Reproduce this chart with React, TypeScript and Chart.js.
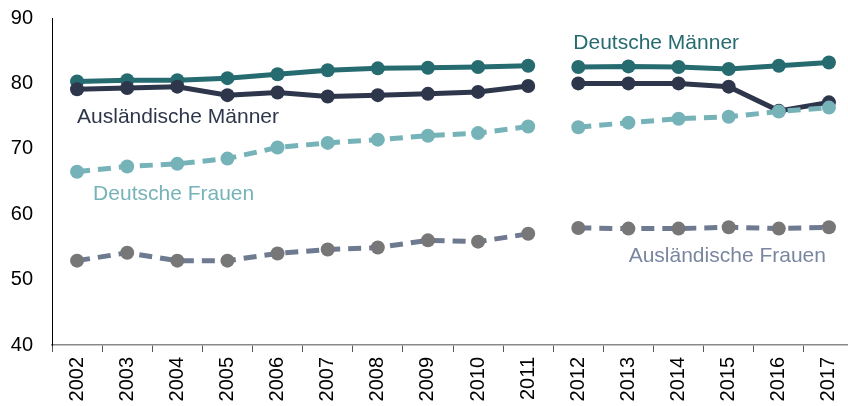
import React, { useEffect, useRef } from "react";
import { Chart, registerables } from "chart.js";

Chart.register(...registerables);

const years = ["2002","2003","2004","2005","2006","2007","2008","2009","2010","2011","2012","2013","2014","2015","2016","2017"];
const deutscheMaenner = [80.3, 80.5, 80.5, 80.8, 81.4, 82.0, 82.3, 82.4, 82.5, 82.7, 82.5, 82.6, 82.5, 82.2, 82.7, 83.2];
const auslMaenner = [79.1, 79.3, 79.5, 78.2, 78.6, 78.0, 78.2, 78.4, 78.7, 79.6, 80.0, 80.0, 80.0, 79.5, 75.8, 77.1];
const deutscheFrauen = [66.5, 67.3, 67.7, 68.5, 70.2, 70.9, 71.4, 72.0, 72.4, 73.4, 73.3, 74.0, 74.6, 74.9, 75.7, 76.3];
const auslFrauen = [52.9, 54.1, 52.9, 52.9, 54.0, 54.6, 54.9, 56.0, 55.8, 57.0, 57.9, 57.8, 57.8, 58.0, 57.8, 58.0];
const yTicks = [40, 50, 60, 70, 80, 90];
const breakAfterIndex = 9;

const labelTexts = ["Deutsche Männer", "Ausländische Männer", "Deutsche Frauen", "Ausländische Frauen"];
const labelX = [9.9, 0.0, 0.32, 14.94];
const labelY = [86.2, 74.8, 63.1, 53.6];
const labelAlign: CanvasTextAlign[] = ["left", "left", "left", "right"];
const labelColors = ["#256b70", "#2e364b", "#76b3b8", "#7a86a0"];

const FONT = '"Liberation Sans", Arial, sans-serif';

const labelsPlugin = {
  id: "seriesLabels",
  afterDatasetsDraw(chart: any) {
    const { ctx, scales } = chart;
    ctx.save();
    ctx.font = `21px ${FONT}`;
    ctx.textBaseline = "middle";
    labelTexts.forEach((t, i) => {
      ctx.fillStyle = labelColors[i];
      ctx.textAlign = labelAlign[i];
      ctx.fillText(t, scales.x.getPixelForValue(labelX[i]), scales.y.getPixelForValue(labelY[i]));
    });
    ctx.restore();
  },
};

const gapSegment = {
  borderColor: (c: any) => (c.p0DataIndex === breakAfterIndex ? "rgba(0,0,0,0)" : undefined),
};

export default function App() {
  const ref = useRef<HTMLCanvasElement>(null);
  useEffect(() => {
    if (!ref.current) return;
    const mk = (label: string, data: number[], color: string, pointColor: string, dashed: boolean) => ({
      label,
      data,
      borderColor: color,
      backgroundColor: pointColor,
      pointBackgroundColor: pointColor,
      pointBorderColor: pointColor,
      pointRadius: 7,
      pointBorderWidth: 0,
      borderWidth: 5,
      borderDash: dashed ? [13, 8] : [],
      tension: 0,
      segment: gapSegment,
    });
    const chart = new Chart(ref.current, {
      type: "line",
      data: {
        labels: years,
        datasets: [
          mk("Ausländische Frauen", auslFrauen, "#6e7a90", "#777777", true),
          mk("Deutsche Frauen", deutscheFrauen, "#76b3b8", "#76b3b8", true),
          mk("Ausländische Männer", auslMaenner, "#2e364b", "#2e364b", false),
          mk("Deutsche Männer", deutscheMaenner, "#256b70", "#256b70", false),
        ],
      },
      options: {
        animation: false,
        responsive: false,
        layout: { padding: { top: 18, right: 1, left: 0, bottom: 0 } },
        plugins: { legend: { display: false }, tooltip: { enabled: false } },
        scales: {
          x: {
            offset: true,
            afterFit: (s: any) => { s.height = 61; s.paddingLeft = 0; s.paddingRight = 0; },
            grid: { display: true, drawOnChartArea: false, offset: true, color: "#555", tickLength: 7 },
            border: { display: true, color: "#888", width: 1.5 },
            ticks: {
              maxRotation: 90,
              minRotation: 90,
              color: "#000",
              font: { family: FONT, size: 20 },
              padding: 5,
            },
          },
          y: {
            min: 40,
            max: 90,
            afterBuildTicks: (s: any) => { s.ticks = yTicks.map((v) => ({ value: v })); },
            afterFit: (s: any) => { s.width = 52; s.paddingTop = 0; s.paddingBottom = 0; },
            grid: { display: false, drawTicks: false },
            border: { display: true, color: "#000", width: 1 },
            ticks: {
              color: "#000",
              padding: 19,
              font: { family: FONT, size: 20 },
            },
          },
        },
      },
      plugins: [labelsPlugin],
    });
    return () => chart.destroy();
  }, []);
  return (
    <div style={{ position: "fixed", left: 0, top: 0, width: 848, height: 406, overflow: "hidden", background: "#fff" }}>
      <canvas ref={ref} width={861} height={406} style={{ width: 861, height: 406, display: "block" }} />
    </div>
  );
}
